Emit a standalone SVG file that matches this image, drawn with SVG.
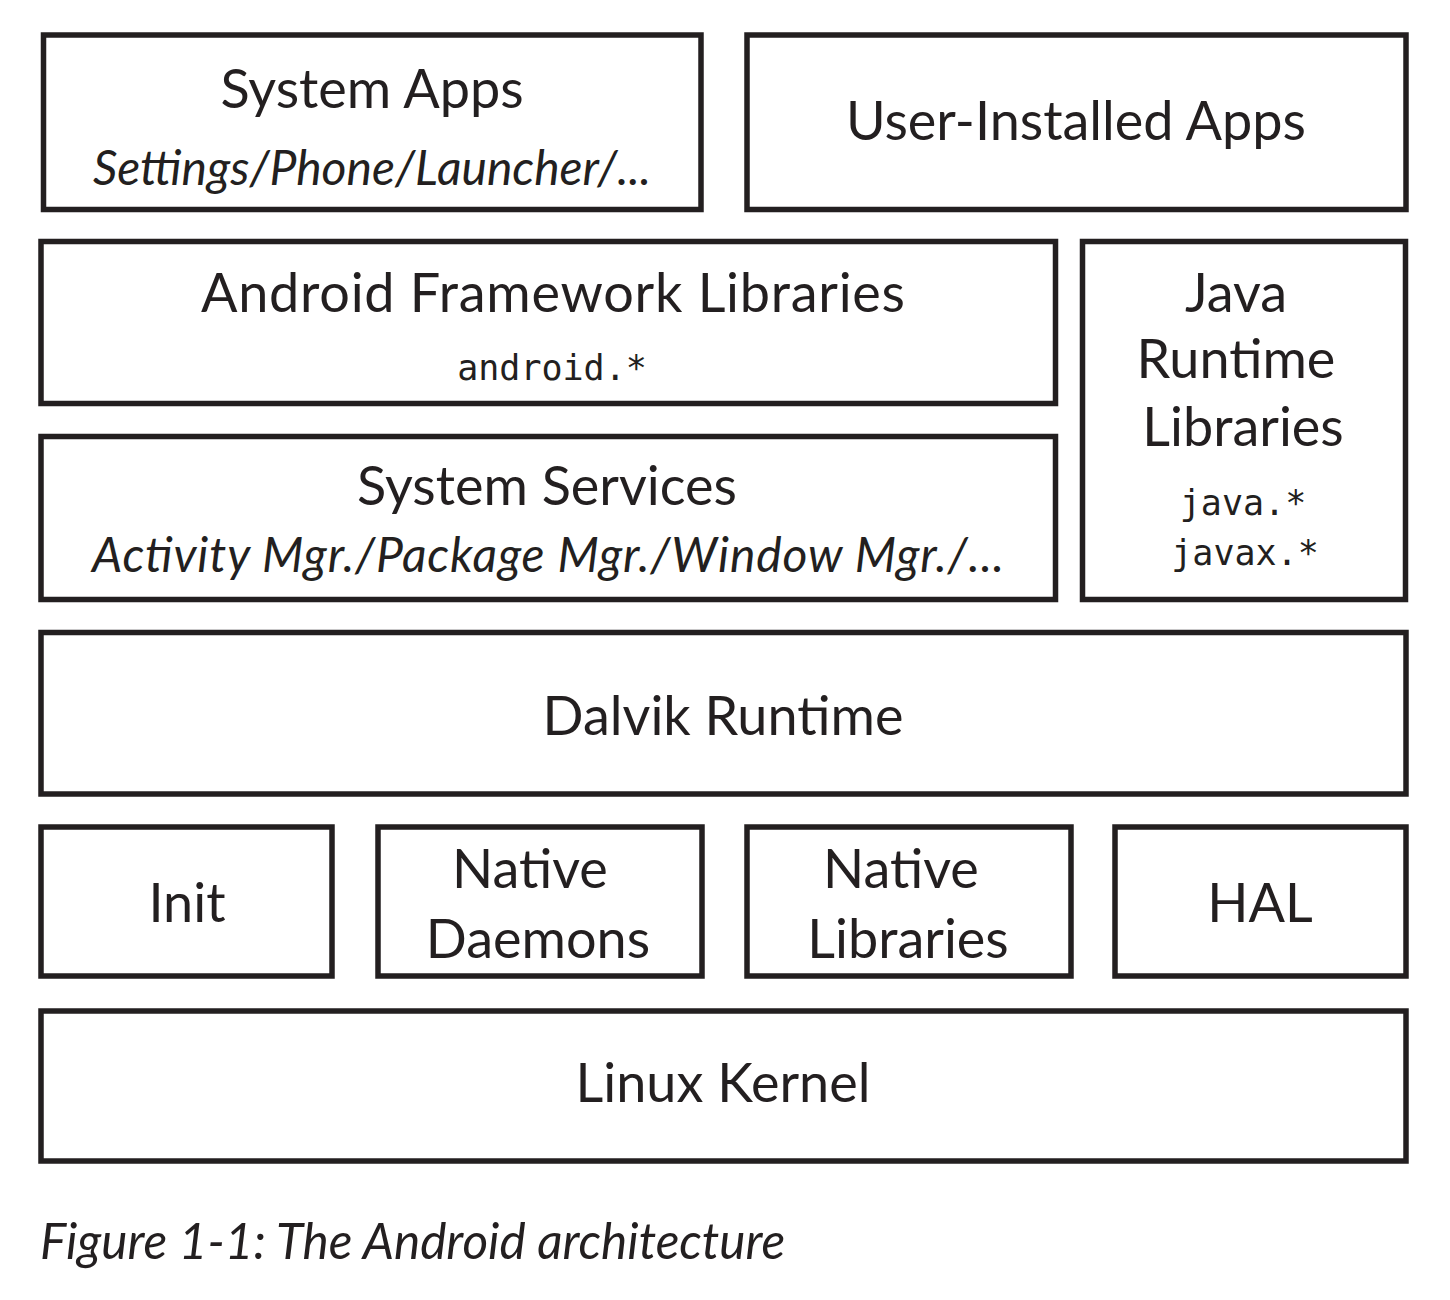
<svg xmlns="http://www.w3.org/2000/svg" width="1450" height="1300" viewBox="0 0 1450 1300">
<style>
.box{fill:#fff;stroke:#231f20;stroke-width:5.5}
.t{font-family:"Lato","Noto Sans",sans-serif;font-size:54px;fill:#231f20;text-anchor:middle}
.i{font-family:"Lato","Noto Sans",sans-serif;font-style:italic;font-size:48px;fill:#231f20;text-anchor:middle}
.m{font-family:"DejaVu Sans Mono","Liberation Mono",monospace;font-size:35px;fill:#231f20;text-anchor:middle}
.cap{font-family:"Lato","Noto Sans",sans-serif;font-style:italic;font-size:49.5px;fill:#231f20}
</style>
<rect width="1450" height="1300" fill="#fff"/>
<g id="connectors"></g>
<g id="system-apps"><rect class="box" x="43.5" y="35" width="657.5" height="174.5"/>
<text class="t" x="372" y="108">System Apps</text>
<text class="i" x="372" y="185">Settings/Phone/Launcher/...</text></g>
<g id="user-apps"><rect class="box" x="747" y="35" width="659" height="174.5"/>
<text class="t" x="1076" y="140">User-Installed Apps</text></g>
<g id="framework"><rect class="box" x="41" y="241.5" width="1014.5" height="162"/>
<text class="t" x="553" y="312" textLength="704" lengthAdjust="spacing">Android Framework Libraries</text>
<text class="m" x="552" y="380">android.*</text></g>
<g id="java"><rect class="box" x="1082.5" y="241.5" width="323" height="358"/>
<text class="t" x="1236" y="312">Java</text>
<text class="t" x="1236" y="378">Runtime</text>
<text class="t" x="1243" y="446">Libraries</text>
<text class="m" x="1243" y="515">java.*</text>
<text class="m" x="1245" y="565">javax.*</text></g>
<g id="services"><rect class="box" x="41" y="436.5" width="1014.5" height="163"/>
<text class="t" x="547" y="505">System Services</text>
<text class="i" x="548" y="572" font-size="50" textLength="912" lengthAdjust="spacing">Activity Mgr./Package Mgr./Window Mgr./...</text></g>
<g id="dalvik"><rect class="box" x="41" y="632.5" width="1365" height="161.5"/>
<text class="t" x="723" y="735">Dalvik Runtime</text></g>
<g id="init"><rect class="box" x="41" y="827" width="291" height="149"/>
<text class="t" x="187" y="922">Init</text></g>
<g id="native-daemons"><rect class="box" x="378" y="827" width="324" height="149"/>
<text class="t" x="530" y="888">Native</text>
<text class="t" x="538" y="958">Daemons</text></g>
<g id="native-libraries"><rect class="box" x="747" y="827" width="324" height="149"/>
<text class="t" x="901" y="888">Native</text>
<text class="t" x="908" y="958">Libraries</text></g>
<g id="hal"><rect class="box" x="1115" y="827" width="291" height="149"/>
<text class="t" x="1260" y="922">HAL</text></g>
<g id="linux"><rect class="box" x="41" y="1011" width="1365" height="150"/>
<text class="t" x="723" y="1102">Linux Kernel</text></g>
<text class="cap" x="40" y="1259">Figure 1-1: The Android architecture</text>
</svg>
